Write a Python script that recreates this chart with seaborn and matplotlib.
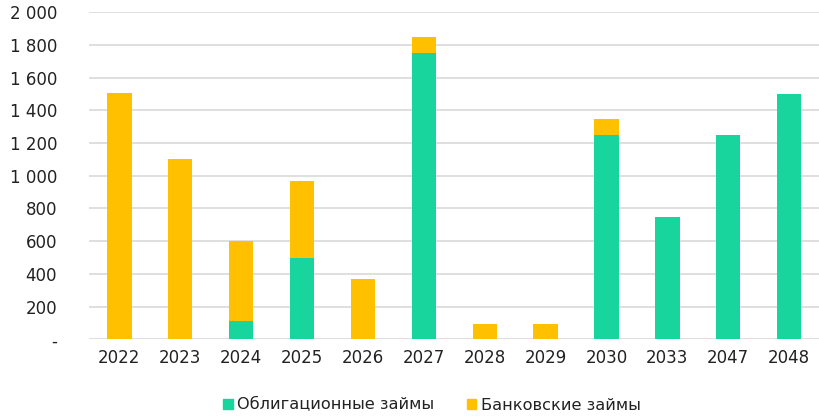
import matplotlib
matplotlib.use("Agg")
import matplotlib.pyplot as plt
import seaborn as sns
import pandas as pd
from matplotlib.patches import Patch

years = ["2022", "2023", "2024", "2025", "2026", "2027", "2028", "2029", "2030", "2033", "2047", "2048"]
bonds = [0, 0, 110, 500, 0, 1750, 0, 0, 1250, 750, 1250, 1500]
banks = [1507, 1100, 490, 468, 367, 100, 97, 97, 97, 0, 0, 0]
yticks = [0, 200, 400, 600, 800, 1000, 1200, 1400, 1600, 1800, 2000]
ylabels = ["-", "200", "400", "600", "800", "1 000", "1 200", "1 400", "1 600", "1 800", "2 000"]
series_names = ["Облигационные займы", "Банковские займы"]

GREEN = "#17D59D"
YELLOW = "#FFC000"

sns.set_theme(style="white")
plt.rcParams["font.family"] = ["DejaVu Sans"]

df = pd.DataFrame({"year": years, "bonds": bonds, "banks": banks})
df["total"] = df["bonds"] + df["banks"]

fig = plt.figure(figsize=(8.2, 4.16), dpi=100)
ax = fig.add_axes([0.1085, 0.184, 0.891, 0.787])

sns.barplot(data=df, x="year", y="total", color=YELLOW, width=0.4, ax=ax,
            saturation=1, order=years, linewidth=0, zorder=3)
sns.barplot(data=df, x="year", y="bonds", color=GREEN, width=0.4, ax=ax,
            saturation=1, order=years, linewidth=0, zorder=4)

ax.set_ylim(0, 2000)
ax.set_xlim(-0.5, len(years) - 0.5)
ax.set_yticks(yticks)
ax.set_yticklabels(ylabels)
ax.set_xlabel("")
ax.set_ylabel("")
ax.grid(axis="y", color="#d6d6d6", linewidth=1.1, zorder=0)
ax.set_axisbelow(True)
for s in ax.spines.values():
    s.set_visible(False)
ax.tick_params(axis="both", length=0, labelsize=12, colors="#222222")
ax.tick_params(axis="y", pad=23)
ax.tick_params(axis="x", pad=7)

handles = [Patch(color=GREEN), Patch(color=YELLOW)]
fig.legend(handles, series_names, loc="center", bbox_to_anchor=(432 / 820, 1 - 405 / 416),
           ncol=2, frameon=False, fontsize=11.6, handlelength=0.6, handleheight=0.6,
           handletextpad=0.3, columnspacing=2.0, labelcolor="#222222")

fig.savefig("out.png", dpi=100)
